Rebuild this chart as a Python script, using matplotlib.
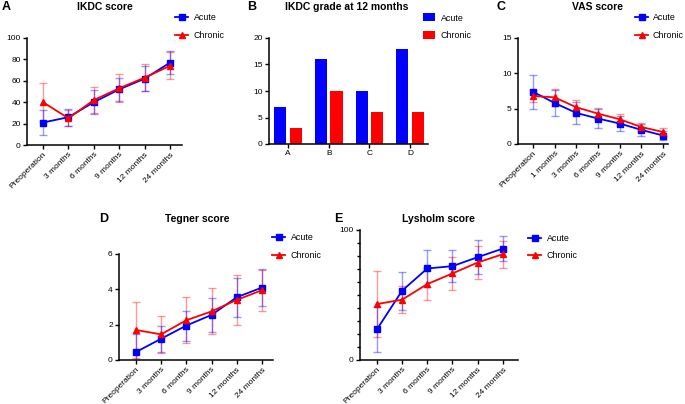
import numpy as np
import matplotlib
matplotlib.use('Agg')
import matplotlib.pyplot as plt
from matplotlib.ticker import MultipleLocator

plt.rcParams['font.family'] = ['Liberation Sans', 'DejaVu Sans']

# data
months6 = ['Preoperation', '3 months', '6 months', '9 months', '12 months', '24 months']
months7 = ['Preoperation', '1 months', '3 months', '6 months', '9 months', '12 months', '24 months']

ikdc_acute = [21, 26, 40, 52, 62, 77]
ikdc_acute_sd = [11.5, 8, 11, 11, 11.5, 11]
ikdc_chronic = [40, 25, 42, 53, 63, 74]
ikdc_chronic_sd = [18, 7.5, 12.5, 13, 12.5, 12.5]

grades = ['A', 'B', 'C', 'D']
grade_acute = [7, 16, 10, 18]
grade_chronic = [3, 10, 6, 6]

vas_acute = [7.4, 5.8, 4.4, 3.6, 2.9, 2.0, 1.2]
vas_acute_sd = [2.4, 1.9, 1.6, 1.4, 1.1, 0.8, 0.7]
vas_chronic = [6.8, 6.6, 5.2, 4.3, 3.5, 2.4, 1.7]
vas_chronic_sd = [0.8, 1.2, 1.0, 0.8, 0.7, 0.6, 0.6]

tegner_acute = [0.45, 1.2, 1.95, 2.55, 3.55, 4.1]
tegner_acute_sd = [1.05, 0.75, 0.85, 0.95, 1.1, 1.05]
tegner_chronic = [1.7, 1.45, 2.25, 2.75, 3.4, 3.95]
tegner_chronic_sd = [1.6, 1.05, 1.3, 1.3, 1.4, 1.15]

lys_acute = [23.5, 53.3, 70.4, 72.2, 79.1, 85.7]
lys_acute_sd = [17, 14.5, 14.5, 12.5, 13, 9.5]
lys_chronic = [43, 46.4, 58.4, 66.6, 75, 81.4]
lys_chronic_sd = [25.5, 10.5, 12.5, 12.5, 13, 10.5]

BLUE = '#0000FF'
RED = '#FF0000'
W, H = 685, 404

fig = plt.figure(figsize=(6.85, 4.04), dpi=100)


def px_axes(left, top, right, bottom):
    # axes from pixel box
    return fig.add_axes([left / W, 1 - bottom / H, (right - left) / W, (bottom - top) / H])


def style(ax):
    for s in ['top', 'right']:
        ax.spines[s].set_visible(False)
    for s in ['left', 'bottom']:
        ax.spines[s].set_linewidth(1.1)
    ax.tick_params(direction='out', length=3, width=1.0, labelsize=6, pad=1.5)
    ax.tick_params(which='minor', direction='out', length=2.5, width=1.0)


def line_panel(ax, cats, acute, acute_sd, chronic, chronic_sd):
    x = np.arange(len(cats))
    ax.errorbar(x, chronic, yerr=chronic_sd, fmt='none', ecolor=RED, alpha=0.4,
                elinewidth=1.0, capsize=2.8, capthick=1.0, zorder=1)
    ax.errorbar(x, acute, yerr=acute_sd, fmt='none', ecolor=BLUE, alpha=0.4,
                elinewidth=1.0, capsize=2.8, capthick=1.0, zorder=1)
    ax.plot(x, acute, color=BLUE, marker='s', markersize=4.2, lw=1.3, label='Acute', zorder=3)
    ax.plot(x, chronic, color=RED, marker='^', markersize=4, lw=1.3, label='Chronic', zorder=3)
    ax.set_xticks(x)
    ax.set_xticklabels(cats, rotation=45, ha='right', rotation_mode='anchor')
    style(ax)


def legend(ax, fx, fy, pad=0.6):
    ax.legend(loc='upper left', bbox_to_anchor=(fx / W, 1 - fy / H), bbox_transform=fig.transFigure,
              frameon=False, fontsize=6.4, handlelength=1.5, handletextpad=pad,
              labelspacing=0.95, borderaxespad=0, borderpad=0)


def title(x, y, letter, lx, ly, text):
    fig.text(x / W, 1 - y / H, text, ha='center', va='center', fontsize=7.5, fontweight='bold')
    fig.text(lx / W, 1 - ly / H, letter, ha='left', va='center', fontsize=9, fontweight='bold')


# A
axA = px_axes(27, 38, 182, 145)
line_panel(axA, months6, ikdc_acute, ikdc_acute_sd, ikdc_chronic, ikdc_chronic_sd)
axA.set_xlim(-0.63, 5.47)
axA.set_ylim(0, 100)
axA.set_yticks([0, 20, 40, 60, 80, 100])
legend(axA, 175, 13.5)
title(105, 7, 'A', 2, 7, 'IKDC score')

# B
axB = px_axes(269, 38, 428, 144)
xb = np.arange(len(grades))
axB.bar(xb - 0.19, grade_acute, width=0.3, color=BLUE, label='Acute')
axB.bar(xb + 0.19, grade_chronic, width=0.3, color=RED, label='Chronic')
axB.set_xticks(xb)
axB.set_xticklabels(grades)
axB.set_xlim(-0.47, 3.44)
axB.set_ylim(0, 20)
axB.set_yticks([0, 5, 10, 15, 20])
style(axB)
axB.legend(loc='upper left', bbox_to_anchor=(423 / W, 1 - 13.5 / H), bbox_transform=fig.transFigure,
           frameon=False, fontsize=6.4, handlelength=1.4, handleheight=1.0, handletextpad=0.6,
           labelspacing=0.95, borderaxespad=0, borderpad=0)
title(347, 7, 'B', 247, 7, 'IKDC grade at 12 months')

# C
axC = px_axes(518, 38, 668, 144)
line_panel(axC, months7, vas_acute, vas_acute_sd, vas_chronic, vas_chronic_sd)
axC.set_xlim(-0.69, 6.23)
axC.set_ylim(0, 15)
axC.set_yticks([0, 5, 10, 15])
legend(axC, 635, 13.5, pad=0.5)
title(597, 7, 'C', 496, 7, 'VAS score')

# D
axD = px_axes(119, 254, 273, 360)
line_panel(axD, months6, tegner_acute, tegner_acute_sd, tegner_chronic, tegner_chronic_sd)
axD.set_xlim(-0.67, 5.44)
axD.set_ylim(0, 6)
axD.set_yticks([0, 2, 4, 6])
legend(axD, 272, 233.5)
title(197, 219, 'D', 99, 219, 'Tegner score')

# E
axE = px_axes(360, 230, 518, 360)
line_panel(axE, months6, lys_acute, lys_acute_sd, lys_chronic, lys_chronic_sd)
axE.set_xlim(-0.67, 5.6)
axE.set_ylim(0, 100)
axE.set_yticks([0, 100])
axE.yaxis.set_minor_locator(MultipleLocator(10))
legend(axE, 528, 234)
title(438, 219, 'E', 334, 219, 'Lysholm score')

fig.savefig('out.png', dpi=100)
